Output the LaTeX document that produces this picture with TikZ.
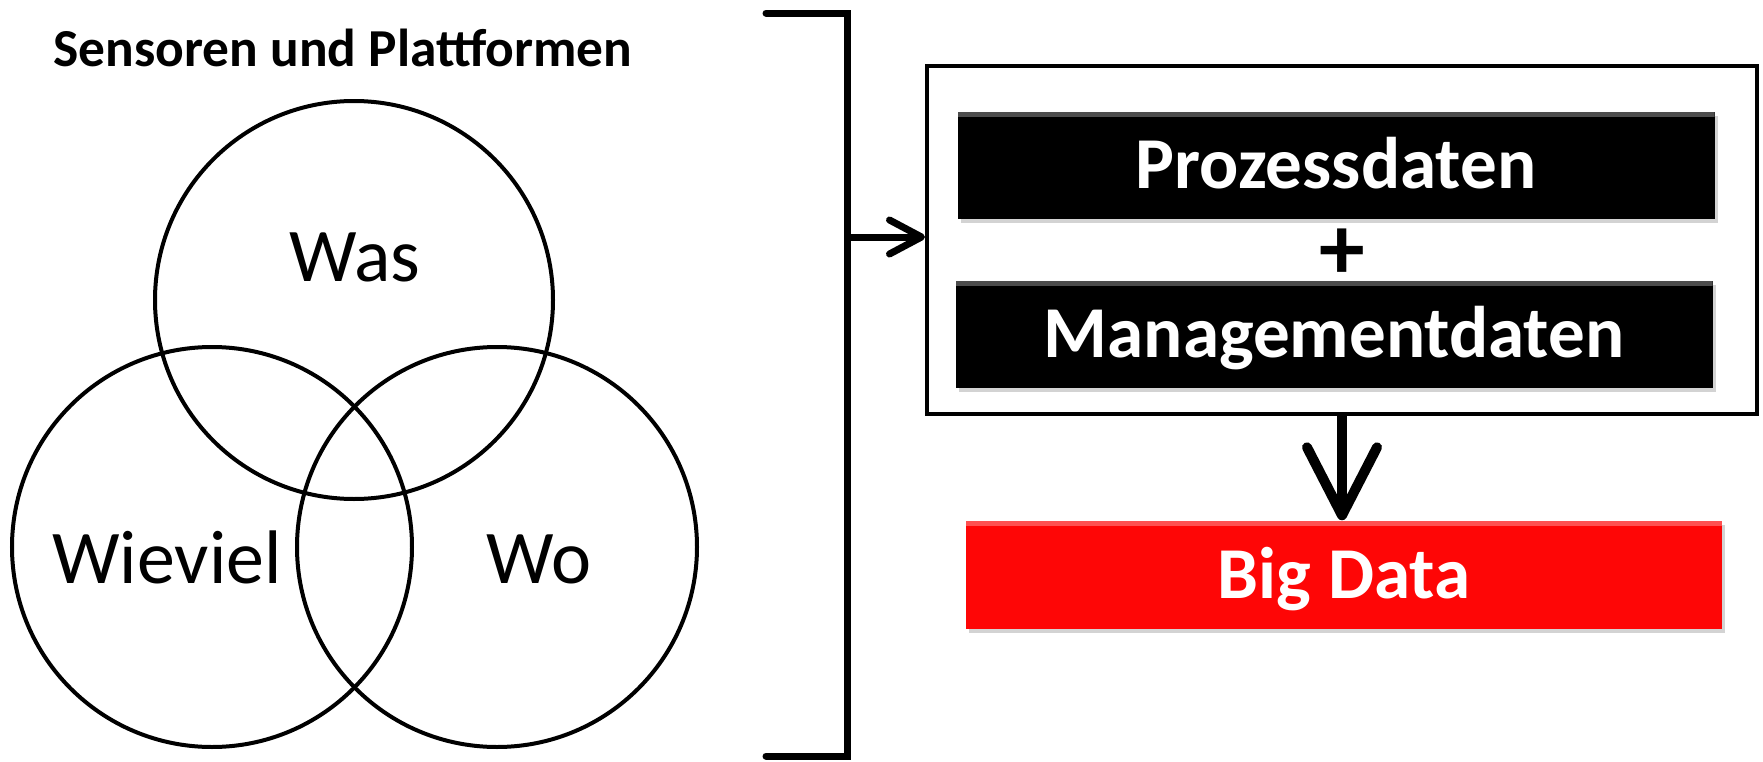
\documentclass[tikz,border=0pt]{standalone}
\usepackage{fontspec}
\setmainfont{Carlito}
\usetikzlibrary{arrows.meta,shadows}
\definecolor{bigred}{RGB}{254,6,6}
\tikzset{
  datenbox/.style={draw=none, fill=black, text=white, inner sep=0pt,
    font=\fontsize{20.8}{24}\selectfont\bfseries,
    minimum width=7.57cm, minimum height=1.07cm, text height=0.46cm, text depth=0cm,
    drop shadow={opacity=0.35, shadow xshift=0.03cm, shadow yshift=-0.04cm},
    path picture={\fill[white, opacity=0.3] (path picture bounding box.north west) rectangle ([yshift=-0.05cm]path picture bounding box.north east);}},
  kreislabel/.style={font=\fontsize{21.6}{25}\selectfont, inner sep=0pt, anchor=base},
  kreis/.style={line width=0.04cm},
  pfeil/.style={line width=0.07cm, -{Straight Barb[length=3.2mm, width=3.4mm, round]}},
  pfeil dick/.style={line width=0.1cm, -{Straight Barb[length=6.8mm, width=7cm/10, round]}},
}

\begin{document}
\begin{tikzpicture}
  %%%%% START %%%%%
  \useasboundingbox (0,0) rectangle (17.63,-7.62);

  \node[font=\fontsize{15.2}{18}\selectfont\bfseries, anchor=base, inner sep=0pt] (titel) at (3.43,-0.66) {Sensoren und Plattformen};

  % Venn
  \draw[kreis] (3.54,-3.00) circle (1.99);
  \draw[kreis] (2.12,-5.47) circle (2.00);
  \draw[kreis] (4.97,-5.47) circle (2.00);

  \node[kreislabel] (was) at (3.55,-2.81) {Was};
  \node[kreislabel] (wieviel) at (1.67,-5.83) {Wieviel};
  \node[kreislabel] (wo) at (5.39,-5.83) {Wo};

  % Klammer
  \draw[line width=0.07cm, line cap=round] (7.66,-0.13) -- (8.47,-0.13) -- (8.47,-7.56) -- (7.66,-7.56);
  \coordinate (klammer) at (8.47,-2.37);

  % Daten
  \node[draw, line width=0.04cm, minimum width=8.30cm, minimum height=3.48cm, inner sep=0pt] (rahmen) at (13.42,-2.40) {};
  \node[datenbox] (prozess) at (13.36,-1.655) {Prozessdaten};
  \node[font=\fontsize{26}{30}\selectfont\bfseries, inner sep=0pt] (plus) at (13.42,-2.54) {+};
  \node[datenbox] (management) at (13.34,-3.345) {Managementdaten};
  \node[datenbox, fill=bigred, minimum width=7.56cm, minimum height=1.08cm] (big) at (13.44,-5.75) {Big Data};

  \draw[pfeil] (klammer) -- (klammer -| rahmen.west);
  \draw[pfeil dick] (rahmen.south) -- (rahmen.south |- big.north);
  %%%%% END %%%%%
\end{tikzpicture}
\end{document}
